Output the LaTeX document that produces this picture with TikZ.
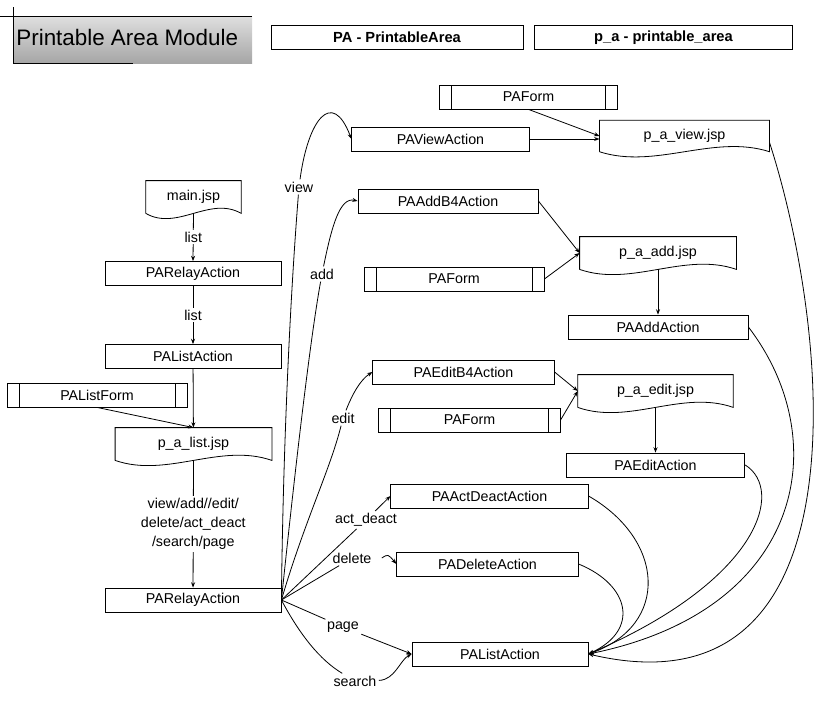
\documentclass[tikz,border=0pt]{standalone}
\usepackage{fontspec}
\setmainfont{Liberation Sans}
\usetikzlibrary{calc,arrows.meta}

\begin{document}
\begin{tikzpicture}[x=0.75pt,y=-0.75pt,line width=0.6pt,>={Stealth[length=4pt,width=3pt]},
	font=\fontsize{10.7}{14.3}\selectfont,
	action/.style={draw,minimum width=132pt,minimum height=18pt,inner sep=0pt},
	form/.style={action,path picture={\draw ([xshift=9pt]path picture bounding box.north west)--([xshift=9pt]path picture bounding box.south west) ([xshift=-9pt]path picture bounding box.north east)--([xshift=-9pt]path picture bounding box.south east);}},
	jsp/.style={minimum height=24pt,inner sep=0pt},
	lbl/.style={fill=white,inner sep=1.5pt},
	hdr/.style={draw,minimum height=17.5pt,font=\fontsize{11}{13}\selectfont\bfseries}]
			\useasboundingbox (0,0) rectangle (821,707);
			% title
			\shade[top color=gray!25,bottom color=gray!70] (14,16) rectangle (252,63);
			\draw (0,16)--(252,16);
			\draw (13,7)--(13,63)--(133,63);
			\node[anchor=west,inner sep=0pt,font=\fontsize{16.8}{20}\selectfont] (title) at (16,37) {Printable Area Module};
			\node[hdr,minimum width=189pt] (pahdr) at (397,37.5) {PA - PrintableArea};
			\node[hdr,minimum width=193pt] (pafile) at (663.5,37.5) {p\_a - printable\_area};
			% left column
			\node[jsp,minimum width=71pt] (mainjsp) at (193.5,197) {main.jsp};
			\node[action] (relayA) at (193,273.5) {PARelayAction};
			\node[action] (listA) at (193,356.5) {PAListAction};
			\node[form,minimum width=135pt] (listform) at (97,395) {PAListForm};
			\node[jsp,minimum width=117pt] (listjsp) at (193.5,444) {p\_a\_list.jsp};
			\node[action] (relayB) at (193,600) {PARelayAction};
			% actions and pages
			\node[form,minimum width=134pt] (formview) at (528.5,97) {PAForm};
			\node[action,minimum width=133pt] (viewA) at (440.5,139) {PAViewAction};
			\node[jsp,minimum width=127pt,minimum height=23pt] (viewjsp) at (684.5,136) {p\_a\_view.jsp};
			\node[action,minimum width=135pt] (addB4) at (448,201) {PAAddB4Action};
			\node[jsp,minimum width=117pt] (addjsp) at (658,253) {p\_a\_add.jsp};
			\node[form,minimum width=135pt] (formadd) at (454,279) {PAForm};
			\node[action,minimum width=135pt] (addA) at (658,327) {PAAddAction};
			\node[action,minimum width=136pt] (editB4) at (463.5,372) {PAEditB4Action};
			\node[jsp,minimum width=116pt] (editjsp) at (655.5,391) {p\_a\_edit.jsp};
			\node[form,minimum width=136pt] (formedit) at (469.5,420) {PAForm};
			\node[action,minimum width=134pt] (editA) at (655.5,465) {PAEditAction};
			\node[action,minimum width=148pt] (actA) at (489.5,496) {PAActDeactAction};
			\node[action,minimum width=136pt] (delA) at (487.5,564) {PADeleteAction};
			\node[action] (listB) at (500,654) {PAListAction};
			\foreach \j in {mainjsp,listjsp,viewjsp,addjsp,editjsp}
				\draw (\j.south west)--(\j.north west)--(\j.north east)--(\j.south east)
					.. controls ($(\j.south east)!0.33!(\j.south west)+(0,-18)$) and ($(\j.south east)!0.67!(\j.south west)+(0,18)$) .. (\j.south west);
			% labels
			\node[lbl] (lview) at (299,187) {view};
			\node[lbl] (ladd) at (322,274) {add};
			\node[lbl] (ledit) at (343,418) {edit};
			\node[lbl] (lact) at (366,520) {act\_deact};
			\node[lbl] (ldel) at (352,558) {delete};
			\node[lbl] (lpage) at (343,627) {page};
			\node[lbl] (lsearch) at (355,681) {search};
			% left flow
			\draw[->] (mainjsp.south)--node[lbl]{list} (relayA.north);
			\draw[->] (relayA)--node[lbl]{list} (listA);
			\draw[->] (listA)--(listjsp);
			\draw[->] (listform.south)--(listjsp.north);
			\draw[->] (listjsp.south)--node[lbl,align=center]{view/add//edit/\\delete/act\_deact\\/search/page} (relayB);
			% pages
			\draw[->] (viewA.east)--(viewA.east -| viewjsp.west);
			\draw[->] (formview.south)--(viewjsp.west);
			\draw[->] (addB4.east)--(addjsp.west);
			\draw[->] (formadd.east)--(addjsp.west);
			\draw[->] (addjsp)--(addA);
			\draw[->] (editB4.east)--(editjsp.west);
			\draw[->] (formedit.east)--(editjsp.west);
			\draw[->] (editjsp)--(editA);
			% from relay
			\draw (relayB.east) .. controls (283,450) and (290,300) .. (lview);
			\draw[->] (lview) .. controls (308,120) and (332,88) .. (viewA.west);
			\draw (relayB.east) .. controls (295,470) and (310,340) .. (ladd);
			\draw[->] (ladd) .. controls (332,225) and (340,197) .. (addB4.west);
			\draw (relayB.east) .. controls (305,520) and (330,470) .. (ledit);
			\draw[->] (ledit) .. controls (352,395) and (360,380) .. (editB4.west);
			\draw (relayB.east)--(lact);
			\draw[->] (lact)--(actA.west);
			\draw (relayB.east)--(ldel);
			\draw[->] ([xshift=6pt]ldel.east) .. controls (388,554) .. (delA.west);
			\draw (relayB.east)--(lpage);
			\draw[->] (lpage)--(listB.west);
			\draw (relayB.east) .. controls (300,635) and (320,660) .. (lsearch);
			\draw[->] (lsearch) .. controls (395,680) and (400,660) .. (listB.west);
			% back to list
			\draw[->] (actA.east) .. controls (665,540) and (670,625) .. (listB.east);
			\draw[->] (delA.east) .. controls (630,585) and (640,630) .. (listB.east);
			\draw[->] (editA.east) .. controls (785,490) and (760,580) .. (listB.east);
			\draw[->] (addA.east) .. controls (835,440) and (805,610) .. (listB.east);
			\draw[->] ([yshift=-5pt]viewjsp.east) .. controls (830,330) and (870,720) .. (listB.east);
		\end{tikzpicture}
\end{document}
